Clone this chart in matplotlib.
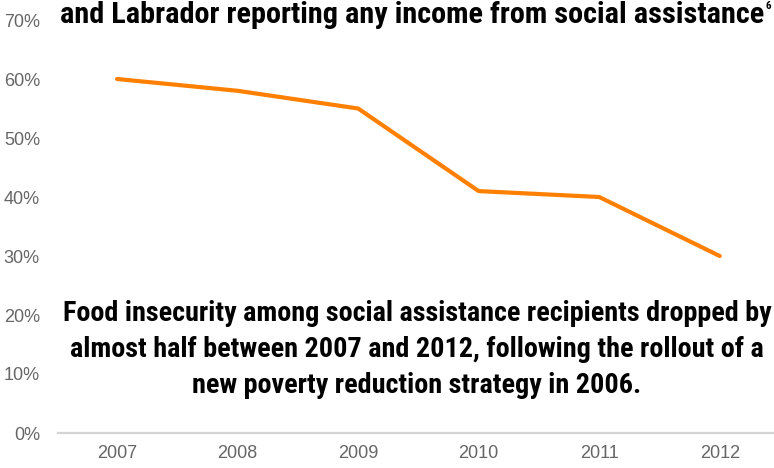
#!/usr/bin/env python3
# Food insecurity among social assistance recipients, NL 2007-2012
import matplotlib
matplotlib.use("Agg")
import matplotlib.pyplot as plt
from matplotlib import font_manager as fm
from matplotlib.ticker import PercentFormatter

years = ["2007", "2008", "2009", "2010", "2011", "2012"]
food_insecure_pct = [60, 58, 55, 41, 40, 30]

title_line = "and Labrador reporting any income from social assistance"
title_note_mark = "6"
note_lines = ["Food insecurity among social assistance recipients dropped by",
              "almost half between 2007 and 2012, following the rollout of a",
              "new poverty reduction strategy in 2006."]

W, H = 774, 468


def pick_condensed_bold():
    # look for a narrow/condensed bold face, fall back to DejaVu bold
    prefs = ["Liberation Sans Narrow", "Roboto Condensed", "Open Sans Condensed",
             "DejaVu Sans"]
    fonts = fm.fontManager.ttflist
    for name in prefs:
        for f in fonts:
            if f.name == name and f.weight in (700, "bold") and f.style == "normal" and \
                    ("ondensed" in f.fname or "arrow" in f.fname or f.stretch != "normal"):
                return fm.FontProperties(fname=f.fname)
    for f in fonts:
        if ("Narrow" in f.name or "Condensed" in f.name or "ondensed" in f.fname) \
                and f.weight in (700, "bold") and f.style == "normal":
            return fm.FontProperties(fname=f.fname)
    return fm.FontProperties(family="DejaVu Sans", weight="bold")


head_fp = pick_condensed_bold()

fig = plt.figure(figsize=(W / 100, H / 100), dpi=100)
ax = fig.add_axes([58 / W, 35 / H, 722 / W, 413 / H])

x = range(len(years))
ax.plot(x, food_insecure_pct, color="#ff8000", lw=3, solid_capstyle="round",
        solid_joinstyle="round")

ax.set_xlim(-0.49, 5.5)
ax.set_ylim(0, 70)
ax.set_yticks(range(0, 71, 10))
ax.yaxis.set_major_formatter(PercentFormatter(decimals=0))
ax.set_xticks(list(x))
ax.set_xticklabels(years)

for s in ["top", "right", "left"]:
    ax.spines[s].set_visible(False)
ax.spines["bottom"].set_color("#d4d4d4")
ax.spines["bottom"].set_linewidth(1.6)
ax.tick_params(length=0, colors="#666666", labelsize=13)
for lab in ax.get_xticklabels() + ax.get_yticklabels():
    lab.set_fontfamily(["Liberation Sans", "DejaVu Sans"])
ax.tick_params(axis="y", pad=13)
ax.tick_params(axis="x", pad=9)

renderer = fig.canvas.get_renderer()

# title line (top of it is cut off in the source image)
t1 = fig.text(60 / W, 1 - 23 / H, title_line, ha="left", va="baseline",
              fontproperties=head_fp, fontsize=20)
w = t1.get_window_extent(renderer).width
t1.set_fontsize(20 * 703 / w)
end_x = t1.get_window_extent(renderer).x1
fig.text((end_x + 1) / W, 1 - 1 / H, title_note_mark, ha="left", va="top",
         fontproperties=head_fp, fontsize=8)

# centred three-line note, sized so the first line spans the reference width
baselines = [321, 357, 393]
note_texts = [fig.text(417 / W, 1 - b / H, line, ha="center", va="baseline",
                       fontproperties=head_fp, fontsize=17)
              for line, b in zip(note_lines, baselines)]
w = note_texts[0].get_window_extent(renderer).width
for t in note_texts:
    t.set_fontsize(17 * 709 / w)

fig.savefig("out.png", dpi=100)
